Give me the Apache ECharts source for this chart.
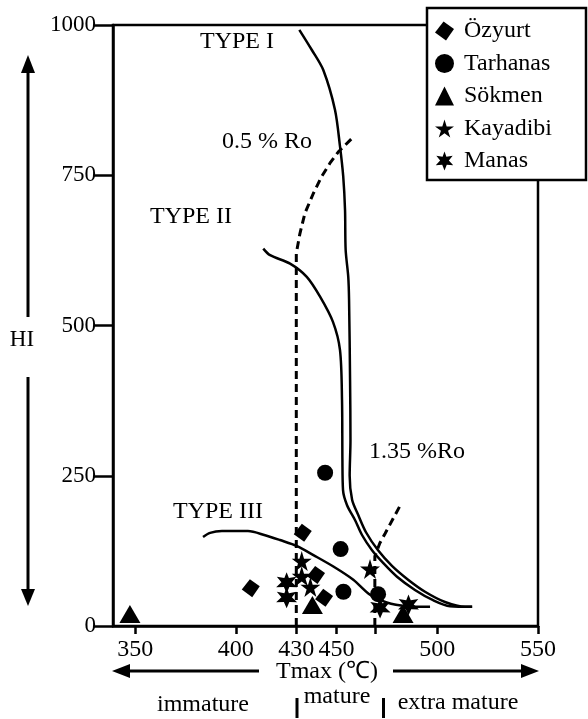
<!DOCTYPE html>
<html>
<head>
<meta charset="utf-8">
<script src="https://cdn.jsdelivr.net/npm/echarts@6/dist/echarts.min.js"></script>
<style>html,body{margin:0;padding:0;background:#fff}#c{width:588px;height:719px}</style>
</head>
<body>
<div id="c"></div>
<script>
// ---- data ----
const tmaxLabels = [350, 400, 430, 450, 500, 550];
const tmaxTicks = [350, 400, 430, 450, 469, 500, 550];
const hiTicks = [0, 250, 500, 750, 1000];

const ozyurt = [[407.4, 63], [433.2, 155], [439.8, 85], [443.8, 47]];
const tarhanas = [[444.3, 255], [452.0, 128], [453.4, 57], [470.6, 53]];
const sokmen = [[347.4, 20], [438, 35], [483, 20]];
const kayadibi = [[432.7, 108], [432.7, 83], [437, 65], [466.6, 95]];
const manas = [[425.2, 72], [425.2, 47], [471.6, 30], [485.7, 35]];

const typeI = [[431.5, 992], [437.8, 958], [443.4, 925], [449.2, 859], [451.7, 798], [453.3, 748], [454.2, 692],
  [454.5, 626], [455.8, 581], [456.2, 542], [456.7, 409], [456.9, 309], [456.5, 250], [457.7, 210], [460.7, 185],
  [464.6, 156], [470.6, 126], [477.5, 100], [485.5, 77], [493.9, 57], [503.8, 40], [513.8, 32], [517.3, 32]];
const typeII = [[413.6, 628], [417.0, 617], [426.9, 603], [435.2, 581], [441.8, 548], [448.2, 506], [451.7, 459],
  [452.7, 376], [452.9, 276], [453.2, 226], [455.2, 201], [459.2, 176], [462.7, 151], [467.6, 126], [473.1, 105],
  [480.0, 82], [488.9, 60], [497.9, 43], [506.3, 33], [517.3, 32]];
const typeIII = [[383.7, 148], [387.2, 155], [393.1, 158], [406.0, 158], [414.5, 151], [421.9, 143], [430.4, 133],
  [438.5, 118], [448.4, 99], [458.3, 77], [466.6, 52], [474.9, 39], [484.8, 33], [496.4, 32]];
const ro05 = [[430, 0], [430, 620], [431.8, 653], [434.3, 687], [438.5, 720], [442.6, 748], [446.7, 770], [450.9, 789], [457.5, 811]];
const ro135 = [[469, 0], [469, 116], [471.5, 138], [474.1, 154], [482.3, 205]];

// ---- chart ----
const FONT = '"Liberation Serif", "Times New Roman", serif';
const STAR5 = 'path://M50,0 L61,35 L98,35 L68,57 L79,91 L50,70 L21,91 L32,57 L2,35 L39,35 Z';
const STAR6 = 'path://M50,0 L60,28 L93,22 L73,48 L96,72 L62,70 L50,100 L38,70 L4,72 L27,48 L7,22 L40,28 Z';
const DIAM = 'path://M45,0 L100,40 L58,100 L0,58 Z';

const chart = echarts.init(document.getElementById('c'), null, {renderer: 'canvas'});

function curve(name, data, dashed) {
  return {
    name: name, type: 'line', data: data, symbol: 'none', smooth: dashed ? false : 0.3,
    lineStyle: {color: '#000', width: dashed ? 3 : 2.5, type: dashed ? [8, 5] : 'solid'},
    silent: true, z: 2
  };
}
function pts(name, data, symbol, size) {
  return {name: name, type: 'scatter', data: data, symbol: symbol, symbolSize: size,
    itemStyle: {color: '#000', opacity: 1}, z: 3};
}

function txt(text, x, y, align, size) {
  return {type: 'text', x: x, y: y, z: 10,
    style: {text: text, fill: '#000', font: (size || 24) + 'px ' + FONT, align: align || 'left', verticalAlign: 'middle'}};
}
function seg(x1, y1, x2, y2, w) {
  return {type: 'line', z: 10, shape: {x1: x1, y1: y1, x2: x2, y2: y2}, style: {stroke: '#000', lineWidth: w || 3}};
}
function tri(p) {
  return {type: 'polygon', z: 10, shape: {points: p}, style: {fill: '#000'}};
}

chart.setOption({
  animation: false,
  backgroundColor: '#fff',
  grid: {left: 113, right: 50, top: 25, bottom: 93, show: true, borderColor: '#000', borderWidth: 2.5, backgroundColor: 'transparent'},
  xAxis: {
    type: 'value', min: 339, max: 550,
    axisLine: {show: true, lineStyle: {color: '#000', width: 2.5}},
    axisTick: {show: true, customValues: tmaxTicks, length: 8, lineStyle: {color: '#000', width: 2.5}},
    axisLabel: {customValues: tmaxLabels, color: '#000', fontSize: 24, fontFamily: FONT, margin: 12},
    splitLine: {show: false}
  },
  yAxis: {
    type: 'value', min: 0, max: 1000, interval: 250,
    axisLine: {show: true, lineStyle: {color: '#000', width: 2.5}},
    axisTick: {show: true, length: 19, lineStyle: {color: '#000', width: 2.5}},
    axisLabel: {color: '#000', fontSize: 23, fontFamily: FONT, margin: 17, formatter: function (v) { return String(v); }},
    splitLine: {show: false}
  },
  legend: {
    orient: 'vertical', left: 430, top: 14, z: 20,
    itemWidth: 19, itemHeight: 19, itemGap: 8.5,
    textStyle: {color: '#000', fontSize: 24, fontFamily: FONT, lineHeight: 24, padding: [0, 0, 0, 5]},
    data: ['Özyurt', 'Tarhanas', 'Sökmen', 'Kayadibi', 'Manas']
  },
  graphic: [
    {type: 'rect', z: 15, shape: {x: 427, y: 8, width: 159, height: 172}, style: {fill: '#fff', stroke: '#000', lineWidth: 2.5}},
    // HI arrow
    seg(28, 317, 28, 68), tri([[28, 55], [21, 73], [35, 73]]),
    seg(28, 377, 28, 592), tri([[28, 606], [21, 589], [35, 589]]),
    txt('HI', 22, 340, 'center', 23),
    // Tmax arrows
    seg(259, 671, 128, 671), tri([[112, 671], [130, 664], [130, 678]]),
    seg(393, 671, 522, 671), tri([[539, 671], [521, 664], [521, 678]]),
    txt('Tmax (℃)', 327, 672, 'center'),
    seg(297, 698, 297, 718), seg(383.5, 698, 383.5, 718),
    txt('immature', 203, 705, 'center'),
    txt('mature', 337, 697, 'center'),
    txt('extra mature', 458, 703, 'center'),
    // curve labels
    txt('TYPE I', 200, 42),
    txt('0.5 % Ro', 222, 142),
    txt('TYPE II', 150, 217),
    txt('1.35 %Ro', 369, 452),
    txt('TYPE III', 173, 512)
  ],
  series: [
    curve('TYPE I', typeI), curve('TYPE II', typeII), curve('TYPE III', typeIII),
    curve('0.5 % Ro', ro05, true), curve('1.35 %Ro', ro135, true),
    pts('Özyurt', ozyurt, DIAM, 18),
    pts('Tarhanas', tarhanas, 'circle', 16),
    pts('Sökmen', sokmen, 'triangle', [21, 18]),
    pts('Kayadibi', kayadibi, STAR5, 20),
    pts('Manas', manas, STAR6, 21)
  ]
});
</script>
</body>
</html>
